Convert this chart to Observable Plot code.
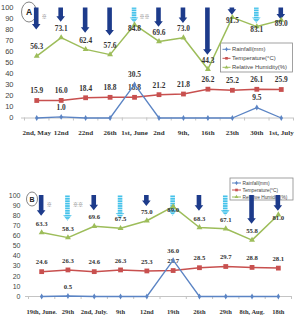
<!DOCTYPE html>
<html>
<head>
<meta charset="utf-8">
<script src="https://cdn.jsdelivr.net/npm/d3@7"></script>
<script src="https://cdn.jsdelivr.net/npm/@observablehq/plot@0.6"></script>
<style>
  body { margin: 0; background: #fff; width: 295px; height: 325px; overflow: hidden; }
  #chart svg { display: block; }
</style>
</head>
<body>
<div id="chart"></div>
<script>
// ---- Period A: May – July ----
const datesA = ["2nd, May", "12nd", "22nd", "26th", "1st, June", "2nd", "9th,", "16th", "23th", "30th", "1st, July"];
const rainA  = [0, 1.0, 0, 0, 30.5, 0, 0, 0, 0, 9.5, 0];
const tempA  = [15.9, 16.0, 18.4, 18.8, 18.8, 21.2, 21.8, 26.2, 25.2, 26.1, 25.9];
const humidA = [56.3, 73.1, 62.4, 57.6, 84.8, 69.6, 73.0, 44.3, 91.5, 83.1, 89.0];
const kindA  = ["※", "※", "※", "※", "※※", "※", "※", "※", "※", "※※", "※"];
const tipA   = [80, 87, 77, 74.5, 86, 82.5, 86, 57, 93.5, 86, 89];

// ---- Period B: June – August ----
const datesB = ["19th, June.", "29th", "2nd, July.", "9th", "12nd", "19th", "26th", "29th", "8th, Aug.", "18th"];
const rainB  = [0, 0.5, 0, 0, 0, 36.0, 0, 0, 0, 0];
const tempB  = [24.6, 26.3, 24.6, 26.3, 25.3, 25.7, 28.5, 29.7, 28.8, 28.1];
const humidB = [63.3, 58.3, 69.6, 67.5, 75.0, 89.0, 68.3, 67.1, 55.8, 81.0];
const kindB  = ["※", "※※", "※", "※※", "※", "※※", "※", "※※", "※", "※"];
const tipB   = [79.5, 74.5, 85, 76.5, 89, 79.5, 84.5, 79.5, 71.5, 84.5];

const seriesNames = ["Rainfall(mm)", "Temperature(\u00b0C)", "Relative Humidity(%)"];
const yTicks = d3.range(0, 101, 10);

const C = { rain: "#5b84c4", temp: "#c8504f", hum: "#9dbd5a", dark: "#1d3b8b" };
const serif = "'Liberation Serif', serif";
const sans = "'Liberation Sans', sans-serif";

// Down arrows hanging from the top of the frame; ※※ ones are striped cyan
function arrowsMark(rows, id) {
  return (index, scales) => {
    const g = d3.create("svg:g");
    const pat = g.append("defs").append("pattern")
      .attr("id", "stripe-" + id).attr("patternUnits", "userSpaceOnUse")
      .attr("width", 6).attr("height", 2.4);
    pat.append("rect").attr("width", 6).attr("height", 1.6).attr("fill", "#45c2ea");
    pat.append("rect").attr("y", 1.6).attr("width", 6).attr("height", 0.8).attr("fill", "#d4f1fa");
    const sw = 2.3, hw = 4.3, hl = 5.5;
    for (const d of rows) {
      const x = scales.x(d.i), y0 = scales.y(100), y1 = scales.y(d.tip);
      const yh = Math.max(y0, y1 - hl);
      g.append("path")
        .attr("d", `M${x - sw},${y0}L${x + sw},${y0}L${x + sw},${yh}L${x + hw},${yh}L${x},${y1}L${x - hw},${yh}L${x - sw},${yh}Z`)
        .attr("fill", d.kind === "※" ? C.dark : `url(#stripe-${id})`);
    }
    return g.node();
  };
}

// Legend box and circled panel letter
function decorMark(cfg) {
  return () => {
    const g = d3.create("svg:g");
    const L = cfg.legend;
    g.append("rect").attr("x", L.x).attr("y", L.y).attr("width", L.w).attr("height", L.h)
      .attr("fill", "white").attr("stroke", "#8a8a8a").attr("stroke-width", 0.8);
    const cols = [C.rain, C.temp, C.hum];
    seriesNames.forEach((name, k) => {
      const yy = L.y + L.first + k * L.step;
      g.append("line").attr("x1", L.x + 2).attr("x2", L.x + 2 + L.sample)
        .attr("y1", yy).attr("y2", yy).attr("stroke", cols[k]).attr("stroke-width", 1);
      const cx = L.x + 2 + L.sample / 2;
      const sym = [d3.symbolDiamond, d3.symbolSquare, d3.symbolTriangle][k];
      g.append("path").attr("transform", `translate(${cx},${yy})`)
        .attr("d", d3.symbol(sym, [6, 7, 6][k])()).attr("fill", cols[k]);
      g.append("text").attr("x", L.x + L.sample + 3.5).attr("y", yy).attr("dy", "0.35em")
        .attr("text-anchor", "start")
        .attr("font-family", sans).attr("font-size", L.fs).attr("fill", "#444").text(name);
    });
    const T = cfg.tag;
    g.append("ellipse").attr("cx", T.cx).attr("cy", T.cy).attr("rx", T.rx).attr("ry", T.ry)
      .attr("fill", "none").attr("stroke", "#666").attr("stroke-width", 0.8);
    g.append("text").attr("x", T.cx).attr("y", T.cy).attr("dy", "0.36em").attr("text-anchor", "middle")
      .attr("font-family", sans).attr("font-weight", "bold").attr("font-size", T.fs)
      .attr("fill", "#222").text(T.label);
    return g.node();
  };
}

function panel(cfg) {
  const rows = cfg.dates.map((date, i) => ({
    i, date, rain: cfg.rain[i], temp: cfg.temp[i], hum: cfg.hum[i], kind: cfg.kind[i], tip: cfg.tip[i]
  }));
  const n = rows.length;
  const firsts = rows.filter((d, k) => rows.findIndex(e => e.kind === d.kind) === k);
  const lab = { fontFamily: serif, fontWeight: "bold", fontSize: cfg.lfs, fill: "#333" };
  return Plot.plot({
    width: 295, height: cfg.height,
    marginTop: cfg.mt, marginBottom: cfg.mb, marginLeft: cfg.ml, marginRight: cfg.mr,
    x: { type: "linear", domain: [-0.5, n - 0.5] },
    y: { domain: [0, 100] },
    style: { background: "white", overflow: "visible" },
    marks: [
      decorMark(cfg),
      Plot.ruleY([0], { stroke: "#c4c4c4", insetLeft: -3 }),
      Plot.axisX(d3.range(n + 1).map(k => k - 0.5), { tickSize: 3, tickFormat: () => "", color: "#c4c4c4", label: null }),
      Plot.axisX(d3.range(n), {
        tickSize: 0, tickPadding: cfg.xPad, tickFormat: k => cfg.dates[k], label: null,
        fontFamily: serif, fontWeight: "bold", fontSize: cfg.xfs, color: "#333"
      }),
      Plot.axisY(yTicks, {
        tickSize: 0, tickPadding: cfg.yPad, label: null,
        fontFamily: sans, fontSize: cfg.yfs, color: "#444"
      }),
      arrowsMark(rows, cfg.id),
      Plot.text(firsts, {
        x: "i", frameAnchor: "top", text: "kind", dx: 5, dy: cfg.markDy, textAnchor: "start",
        fontSize: 5, fill: "#666", fontFamily: "'Noto Sans CJK KR', sans-serif"
      }),
      // relative humidity
      Plot.line(rows, { x: "i", y: "hum", stroke: C.hum, strokeWidth: 1.5 }),
      Plot.dot(rows, { x: "i", y: "hum", symbol: "triangle", r: 2.2, fill: C.hum }),
      Plot.text(rows.filter(d => d.hum < 80), { x: "i", y: "hum", text: d => d.hum.toFixed(1), dy: -9, ...lab }),
      Plot.text(rows.filter(d => d.hum >= 80), { x: "i", y: "hum", text: d => d.hum.toFixed(1), dy: 3.5, ...lab }),
      // temperature
      Plot.line(rows, { x: "i", y: "temp", stroke: C.temp, strokeWidth: 1.5 }),
      Plot.dot(rows, { x: "i", y: "temp", symbol: "square", r: 2.7, fill: C.temp }),
      Plot.text(rows, { x: "i", y: "temp", text: d => d.temp.toFixed(1), dy: -9.5, ...lab }),
      // rainfall
      Plot.line(rows, { x: "i", y: "rain", stroke: C.rain, strokeWidth: 1.3 }),
      Plot.dot(rows, { x: "i", y: "rain", symbol: "diamond", r: 1.8, fill: C.rain }),
      Plot.text(rows.filter(d => d.rain > 0), { x: "i", y: "rain", text: d => d.rain.toFixed(1), dy: -9.5, ...lab })
    ]
  });
}

const chart = document.getElementById("chart");
chart.append(panel({
  id: "A", dates: datesA, rain: rainA, temp: tempA, hum: humidA, kind: kindA, tip: tipA,
  height: 150, mt: 7.5, mb: 32.5, ml: 24, mr: 2,
  xPad: 12, xfs: 7, yPad: 11, yfs: 7.5, lfs: 7.4, markDy: 6.5,
  legend: { x: 220.5, y: 43, w: 72, h: 29, first: 6.3, step: 9, sample: 8, fs: 5.9 },
  tag: { cx: 29, cy: 12, rx: 7.5, ry: 10, fs: 8.5, label: "A" }
}));
chart.append(panel({
  id: "B", dates: datesB, rain: rainB, temp: tempB, hum: humidB, kind: kindB, tip: tipB,
  height: 175, mt: 45, mb: 29, ml: 28, mr: 4,
  xPad: 12.7, xfs: 6.5, yPad: 8, yfs: 7, lfs: 6.7, markDy: 7,
  legend: { x: 230, y: 28, w: 63, h: 22, first: 5, step: 7, sample: 9, fs: 4.8 },
  tag: { cx: 32, cy: 49, rx: 5.5, ry: 7, fs: 7, label: "B" }
}));
</script>
</body>
</html>
